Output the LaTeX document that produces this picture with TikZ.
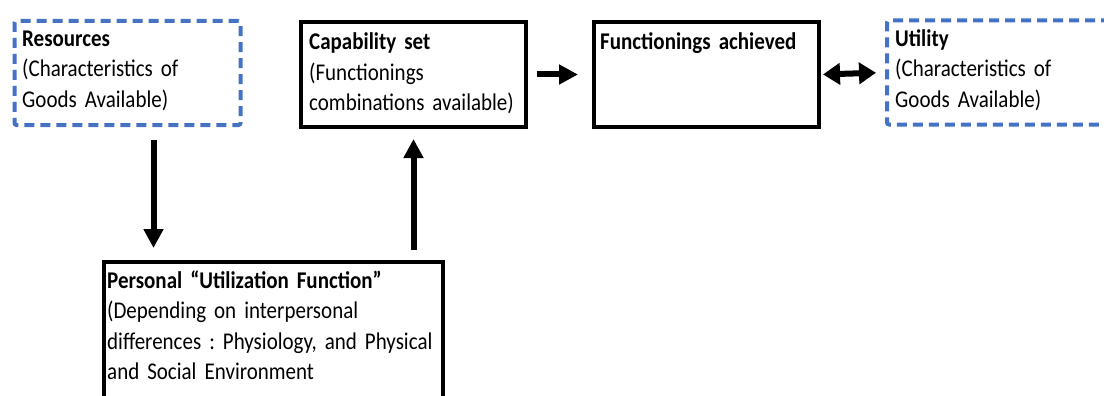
\documentclass[tikz,border=0pt]{standalone}
\usepackage{fontspec}
\setmainfont{Carlito}[FakeStretch=0.875, WordSpace=0.8]
\usetikzlibrary{arrows.meta}
\definecolor{officeblue}{HTML}{4472C4}
\frenchspacing
\tikzset{
  blackbox/.style={draw=black, line width=4pt, minimum width=225pt, minimum height=105pt},
  bluebox/.style={draw=officeblue, line width=4pt, dash pattern=on 10pt off 6pt, rounded corners=2pt, minimum width=226pt, minimum height=104pt},
  boxtext/.style={anchor=base west, inner sep=0pt, text width=330pt, align=left, font=\fontsize{24}{30.5}\selectfont},
  fatarrow/.style={line width=6pt, -{Triangle[length=19pt,width=19pt]}},
  fatdouble/.style={line width=6pt, {Triangle[length=17pt,width=21pt]}-{Triangle[length=17pt,width=21pt]}}
}
\begin{document}
\begin{tikzpicture}[x=1pt, y=-1pt]
\useasboundingbox (0,0) rectangle (1104,396);
% boxes
\node[bluebox] (res) at (127.5,73) {};
\node[blackbox] (cap) at (413.5,74.5) {};
\node[blackbox] (fun) at (706.5,74.5) {};
\node[bluebox] (uti) at (1000,72.5) {};
\node[blackbox, minimum width=339pt, minimum height=160pt] (per) at (273.5,342) {};
% texts
\node[boxtext, xshift=9.5pt, yshift=-27.5pt] (restxt) at (res.north west)
  {\textbf{Resources}\\(Characteristics of\\Goods Available)};
\node[boxtext, xshift=10pt, yshift=-30pt] (captxt) at (cap.north west)
  {\textbf{Capability set}\\(Functionings\\combinations available)};
\node[boxtext, xshift=8pt, yshift=-30pt] (funtxt) at (fun.north west)
  {\textbf{Functionings achieved}};
\node[boxtext, xshift=10pt, yshift=-28pt] (utitxt) at (uti.north west)
  {\textbf{Utility}\\(Characteristics of\\Goods Available)};
\node[boxtext, xshift=5pt, yshift=-28pt] (pertxt) at (per.north west)
  {\textbf{Personal “Utilization Function”}\\(Depending on interpersonal\\differences : Physiology, and Physical\\and Social Environment};
% arrows
\draw[fatarrow, shorten <=13pt, shorten >=12pt] ([xshift=26pt]res.south) -- ([xshift=26pt]res.south |- per.north);
\draw[fatarrow, shorten <=10pt, shorten >=10pt] (cap.south |- per.north) -- (cap.south);
\draw[fatarrow, shorten <=9pt, shorten >=14pt] (cap.east) -- (fun.west);
\draw[fatdouble, shorten <=2pt, shorten >=9pt] (fun.east) -- (uti.west);
\end{tikzpicture}
\end{document}
